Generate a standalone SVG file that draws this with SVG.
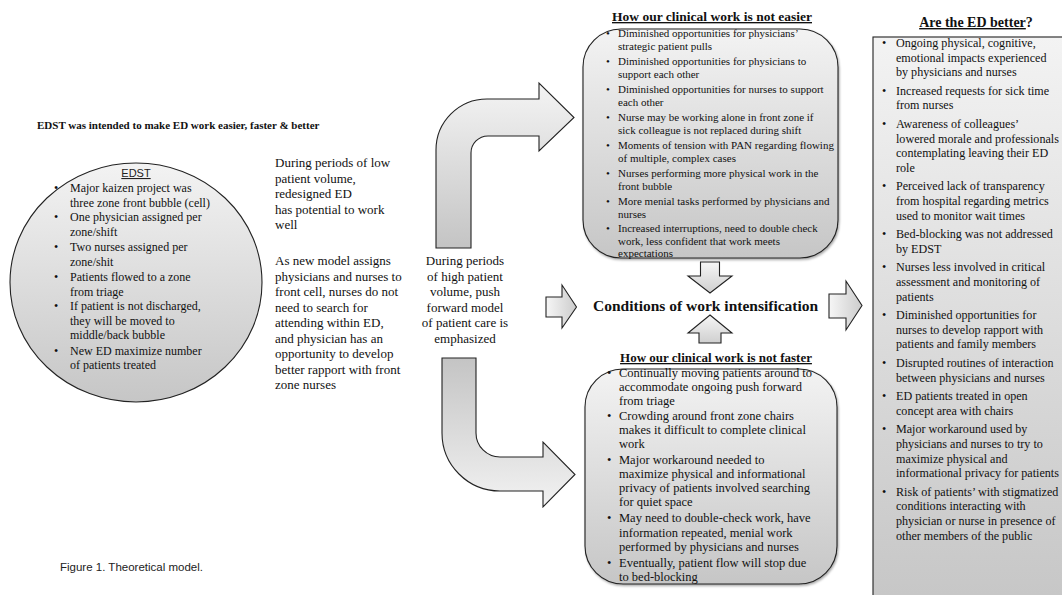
<svg xmlns="http://www.w3.org/2000/svg" width="1062" height="595" viewBox="0 0 1062 595">
<style>
.t{font-family:"Liberation Serif","Times New Roman",serif;fill:#111}
.b{font-weight:bold}
.s{font-family:"Liberation Sans",Arial,sans-serif;fill:#222}
.box{stroke:#222;stroke-width:1.1}
.arr{stroke:#222;stroke-width:1.1;stroke-linejoin:miter}
.f11{font-size:11px}
.f12{font-size:12px}
.f121{font-size:12.1px}
.f125{font-size:12.5px}
.f13{font-size:13px}
.u{text-decoration:underline}
.m{text-anchor:middle}
</style>
<defs>
<linearGradient id="gBox" x1="0" y1="0" x2="0" y2="1">
<stop offset="0" stop-color="#f3f3f3"/>
<stop offset="1" stop-color="#c6c6c6"/>
</linearGradient>
<linearGradient id="gArrDown" x1="0" y1="0" x2="0" y2="1">
<stop offset="0" stop-color="#f4f4f4"/>
<stop offset="1" stop-color="#c4c4c4"/>
</linearGradient>
<linearGradient id="gArrUp" x1="0" y1="0" x2="0" y2="1">
<stop offset="0" stop-color="#c4c4c4"/>
<stop offset="1" stop-color="#f2f2f2"/>
</linearGradient>
<linearGradient id="gSmall" x1="0" y1="0" x2="0" y2="1">
<stop offset="0" stop-color="#f6f6f6"/>
<stop offset="1" stop-color="#cfcfcf"/>
</linearGradient>
<linearGradient id="gSmallH" x1="0" y1="0" x2="1" y2="0">
<stop offset="0" stop-color="#f6f6f6"/>
<stop offset="1" stop-color="#cccccc"/>
</linearGradient>
<filter id="sh" x="-5%" y="-5%" width="110%" height="115%">
<feDropShadow dx="1" dy="1.5" stdDeviation="1" flood-color="#000" flood-opacity="0.35"/>
</filter>
</defs>
<rect width="1062" height="595" fill="#fff"/>

<g id="connectors">
<path class="arr" fill="url(#gArrDown)" d="M436,248 L436,150 A51,51 0 0 1 487,99 L539,99 L539,83 L574,117.5 L539,151 L539,136 L488,136 A17,17 0 0 0 471,153 L471,248 Z"/>
<path class="arr" fill="url(#gArrUp)" d="M442,358 L476,358 L476,433 A24,24 0 0 0 500,457 L543,457 L543,442 L575,474.5 L543,507 L543,491 L500,491 A58,58 0 0 1 442,433 Z"/>
<path class="arr" fill="url(#gSmall)" d="M700.5,262 L719.5,262 L719.5,276 L732,276 L710,293 L688,276 L700.5,276 Z"/>
<path class="arr" fill="url(#gSmall)" d="M710,315 L732,333 L721,333 L721,343 L699,343 L699,333 L688,333 Z"/>
<path class="arr" fill="url(#gSmallH)" d="M546,297 L562,297 L562,285 L576.5,307 L562,328 L562,317 L546,317 Z"/>
<path class="arr" fill="url(#gSmallH)" d="M829,294 L846,294 L846,281 L862,305.5 L846,330 L846,318 L829,318 Z"/>
</g>

<g id="n-title">
<text class="t b" x="37" y="129" font-size="11">EDST was intended to make ED work easier, faster &amp; better</text>
</g>

<g id="n-edst">
<ellipse class="box" cx="136" cy="282.5" rx="126" ry="119.5" fill="url(#gBox)"/>
<text class="s m u" x="136" y="177" font-size="11">EDST</text>
<g class="t f12">
<text x="54" y="192">•</text>
<text x="70" y="192">Major kaizen project was</text>
<text x="70" y="206.5">three zone front bubble (cell)</text>
<text x="54" y="221">•</text>
<text x="70" y="221">One physician assigned per</text>
<text x="70" y="235.5">zone/shift</text>
<text x="54" y="251">•</text>
<text x="70" y="251">Two nurses assigned per</text>
<text x="70" y="265.5">zone/shit</text>
<text x="54" y="281">•</text>
<text x="70" y="281">Patients flowed to a zone</text>
<text x="70" y="295.5">from triage</text>
<text x="54" y="310">•</text>
<text x="70" y="310">If patient is not discharged,</text>
<text x="70" y="324.5">they will be moved to</text>
<text x="70" y="339">middle/back bubble</text>
<text x="54" y="354.5">•</text>
<text x="70" y="354.5">New ED maximize number</text>
<text x="70" y="369">of patients treated</text>
</g>
</g>

<g id="n-low" class="t f13">
<text x="275" y="167">During periods of low</text>
<text x="275" y="182.5">patient volume,</text>
<text x="275" y="198">redesigned ED</text>
<text x="275" y="213.5">has potential to work</text>
<text x="275" y="229">well</text>
<text x="275" y="265">As new model assigns</text>
<text x="275" y="280.5">physicians and nurses to</text>
<text x="275" y="296">front cell, nurses do not</text>
<text x="275" y="311.5">need to search for</text>
<text x="275" y="327">attending within ED,</text>
<text x="275" y="342.5"> and physician has an</text>
<text x="275" y="358">opportunity to develop</text>
<text x="275" y="373.5">better rapport with front</text>
<text x="275" y="389">zone  nurses</text>
</g>

<g id="n-high" class="t f13 m">
<text x="465" y="265">During periods</text>
<text x="465" y="280.5">of high patient</text>
<text x="465" y="296">volume, push</text>
<text x="465" y="311.5">forward model</text>
<text x="465" y="327">of patient care is</text>
<text x="465" y="342.5">emphasized</text>
</g>

<g id="n-easier">
<text class="t b u m" x="712" y="21" font-size="13.5">How our clinical work is not easier</text>
<rect class="box" x="583" y="29" width="255" height="229" rx="38" ry="38" fill="url(#gBox)" filter="url(#sh)"/>
<g class="t f11">
<text x="606" y="37">•</text>
<text x="618" y="37">Diminished opportunities for physicians’</text>
<text x="618" y="49.5">strategic patient pulls</text>
<text x="606" y="65">•</text>
<text x="618" y="65">Diminished opportunities for physicians to</text>
<text x="618" y="77.5">support each other</text>
<text x="606" y="93">•</text>
<text x="618" y="93">Diminished opportunities for nurses to support</text>
<text x="618" y="105.5">each other</text>
<text x="606" y="121">•</text>
<text x="618" y="121">Nurse may be working alone in front zone  if</text>
<text x="618" y="133.5">sick colleague is not replaced during shift</text>
<text x="606" y="149">•</text>
<text x="618" y="149">Moments of tension with PAN regarding flowing</text>
<text x="618" y="161.5">of multiple, complex cases</text>
<text x="606" y="177">•</text>
<text x="618" y="177">Nurses performing more physical work in the</text>
<text x="618" y="189.5">front bubble</text>
<text x="606" y="205">•</text>
<text x="618" y="205">More menial tasks performed by physicians and</text>
<text x="618" y="217.5">nurses</text>
<text x="606" y="232">•</text>
<text x="618" y="232">Increased interruptions, need to double check</text>
<text x="618" y="244.5">work, less confident that work meets</text>
<text x="618" y="257">expectations</text>
</g>
</g>

<g id="n-conditions">
<text class="t b" x="593" y="310.5" font-size="15.5">Conditions of work intensification</text>
</g>

<g id="n-faster">
<text class="t b u m" x="716" y="362" font-size="13">How our clinical work is not faster</text>
<rect class="box" x="585" y="369" width="252" height="215" rx="38" ry="38" fill="url(#gBox)" filter="url(#sh)"/>
<g class="t f125">
<text x="607" y="377">•</text>
<text x="619" y="377">Continually moving patients around to</text>
<text x="619" y="391">accommodate ongoing push forward</text>
<text x="619" y="405">from triage</text>
<text x="607" y="420">•</text>
<text x="619" y="420">Crowding around front zone chairs</text>
<text x="619" y="434">makes it difficult to complete clinical</text>
<text x="619" y="448">work</text>
<text x="607" y="464">•</text>
<text x="619" y="464">Major workaround needed to</text>
<text x="619" y="478">maximize physical and informational</text>
<text x="619" y="492">privacy of patients involved searching</text>
<text x="619" y="506">for quiet space</text>
<text x="607" y="522">•</text>
<text x="619" y="522">May need to double-check work, have</text>
<text x="619" y="537">information repeated, menial work</text>
<text x="619" y="551">performed by physicians and nurses</text>
<text x="607" y="567">•</text>
<text x="619" y="567">Eventually, patient flow will stop due</text>
<text x="619" y="581">to bed-blocking</text>
</g>
</g>

<g id="n-better">
<text class="t b m" x="976" y="27" font-size="14"><tspan class="u">Are the ED better</tspan>?</text>
<rect class="box" x="873" y="37" width="200" height="570" fill="url(#gBox)"/>
<g class="t f121">
<text x="882" y="47">•</text>
<text x="896" y="47">Ongoing physical, cognitive,</text>
<text x="896" y="61.6">emotional impacts experienced</text>
<text x="896" y="76.2">by physicians and nurses</text>
<text x="882" y="94.8">•</text>
<text x="896" y="94.8">Increased requests for sick time</text>
<text x="896" y="109.4">from nurses</text>
<text x="882" y="128">•</text>
<text x="896" y="128">Awareness of colleagues’</text>
<text x="896" y="142.6">lowered morale and professionals</text>
<text x="896" y="157.2">contemplating leaving their ED</text>
<text x="896" y="171.8">role</text>
<text x="882" y="190.4">•</text>
<text x="896" y="190.4">Perceived lack of transparency</text>
<text x="896" y="205">from hospital regarding metrics</text>
<text x="896" y="219.6">used to monitor wait times</text>
<text x="882" y="238.2">•</text>
<text x="896" y="238.2">Bed-blocking was not addressed</text>
<text x="896" y="252.8">by EDST</text>
<text x="882" y="271.4">•</text>
<text x="896" y="271.4">Nurses less involved in critical</text>
<text x="896" y="286">assessment and monitoring of</text>
<text x="896" y="300.6">patients</text>
<text x="882" y="319.2">•</text>
<text x="896" y="319.2">Diminished opportunities for</text>
<text x="896" y="333.8">nurses to develop rapport with</text>
<text x="896" y="348.4">patients and family members</text>
<text x="882" y="367">•</text>
<text x="896" y="367">Disrupted routines of interaction</text>
<text x="896" y="381.6">between physicians and nurses</text>
<text x="882" y="400.2">•</text>
<text x="896" y="400.2">ED patients treated in open</text>
<text x="896" y="414.8">concept area with chairs</text>
<text x="882" y="433.4">•</text>
<text x="896" y="433.4">Major workaround used by</text>
<text x="896" y="448">physicians and nurses to try to</text>
<text x="896" y="462.6">maximize physical and</text>
<text x="896" y="477.2">informational privacy for patients</text>
<text x="882" y="495.8">•</text>
<text x="896" y="495.8">Risk of patients’ with stigmatized</text>
<text x="896" y="510.4">conditions interacting with</text>
<text x="896" y="525">physician or nurse in presence of</text>
<text x="896" y="539.6">other members of the public</text>
</g>
</g>

<g id="n-caption">
<text class="s" x="60" y="571" font-size="11.5">Figure 1. Theoretical model.</text>
</g>
</svg>
